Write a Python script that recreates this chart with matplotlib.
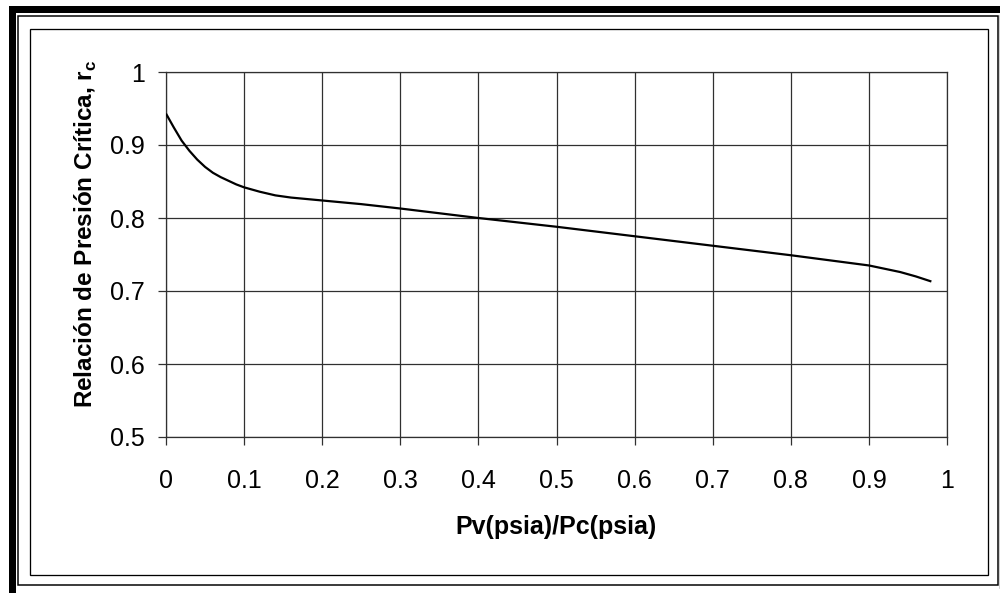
import matplotlib
matplotlib.use("Agg")
import matplotlib.pyplot as plt
from matplotlib.patches import Rectangle
from matplotlib.lines import Line2D

plt.rcParams['font.family'] = ['Liberation Sans', 'DejaVu Sans']
plt.rcParams['mathtext.fontset'] = 'custom'
plt.rcParams['mathtext.rm'] = 'Liberation Sans:bold'
plt.rcParams['mathtext.bf'] = 'Liberation Sans:bold'

# Pv/Pc ratio and critical pressure ratio rc
pv_pc = [0.0, 0.01, 0.02, 0.03, 0.04, 0.05, 0.06, 0.07, 0.08, 0.09,
         0.10, 0.12, 0.14, 0.16, 0.18, 0.20, 0.25, 0.30, 0.40, 0.50,
         0.60, 0.70, 0.80, 0.85, 0.90, 0.94, 0.96, 0.98]
rc = [0.943, 0.924, 0.906, 0.892, 0.880, 0.870, 0.862, 0.856, 0.851, 0.846,
      0.842, 0.836, 0.831, 0.828, 0.826, 0.824, 0.819, 0.813, 0.800, 0.788,
      0.775, 0.762, 0.749, 0.742, 0.735, 0.726, 0.720, 0.713]

x_ticks = [0, 0.1, 0.2, 0.3, 0.4, 0.5, 0.6, 0.7, 0.8, 0.9, 1]
x_tick_labels = ['0', '0.1', '0.2', '0.3', '0.4', '0.5', '0.6', '0.7', '0.8', '0.9', '1']
y_ticks = [0.5, 0.6, 0.7, 0.8, 0.9, 1]
y_tick_labels = ['0.5', '0.6', '0.7', '0.8', '0.9', '1']

W, H = 1000, 593
fig = plt.figure(figsize=(W / 100, H / 100), dpi=100)
fig.patch.set_facecolor('white')


def fx(px):
    return px / W


def fy(py):
    return 1 - py / H


# Framing: heavy outer band, thin inner rule, chart-area box
fig.add_artist(Rectangle((fx(11.5), fy(H + 10)), fx(W + 20), fy(8.5) - fy(H + 10),
                         transform=fig.transFigure, fill=False,
                         edgecolor='black', linewidth=7 * 0.72))
fig.add_artist(Rectangle((fx(18), fy(585)), fx(998) - fx(18), fy(16) - fy(585),
                         transform=fig.transFigure, fill=False,
                         edgecolor='black', linewidth=1.5 * 0.72))
fig.add_artist(Line2D([fx(999.5), fx(999.5)], [fy(16), fy(588)],
                      transform=fig.transFigure, color='#c8c8c8', linewidth=1.2))
fig.add_artist(Rectangle((fx(29.5), fy(574.5)), fx(988) - fx(29.5), fy(28.5) - fy(574.5),
                         transform=fig.transFigure, fill=False,
                         edgecolor='black', linewidth=1.3 * 0.72))

ax = fig.add_axes([fx(166), fy(437), fx(947) - fx(166), fy(72) - fy(437)])
ax.set_facecolor('white')
ax.plot(pv_pc, rc, color='black', linewidth=1.6, solid_capstyle='butt',
        solid_joinstyle='round', zorder=3)

ax.set_xlim(0, 1)
ax.set_ylim(0.5, 1)
ax.set_xticks(x_ticks)
ax.set_xticklabels(x_tick_labels)
ax.set_yticks(y_ticks)
ax.set_yticklabels(y_tick_labels)
ax.grid(True, color='#303030', linewidth=0.9)
ax.set_axisbelow(True)
for s in ax.spines.values():
    s.set_color('#303030')
    s.set_linewidth(0.9)
ax.tick_params(axis='both', direction='out', length=6, width=0.9,
               color='#303030', labelsize=18, labelcolor='black')
ax.tick_params(axis='y', pad=9)
ax.tick_params(axis='x', pad=17)

fig.text(fx(556), fy(527), 'Pv(psia)/Pc(psia)', ha='center', va='center',
         fontsize=18, fontweight='bold')
fig.text(fx(86), fy(234), r'Relación de Presión Crítica, r$_{\mathrm{c}}$',
         ha='center', va='center', rotation=90, fontsize=17.5, fontweight='bold')

fig.savefig('out.png', dpi=100, facecolor='white')
